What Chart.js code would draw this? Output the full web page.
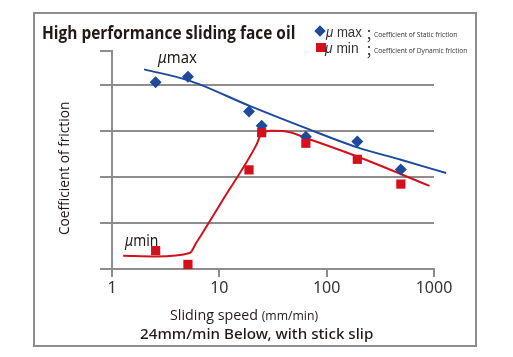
<!DOCTYPE html>
<html><head><meta charset="utf-8">
<script src="https://cdn.jsdelivr.net/npm/chart.js@4/dist/chart.umd.min.js"></script>
<style>
html,body{margin:0;padding:0;background:#fff;}
#wrap{position:relative;width:513px;height:357px;overflow:hidden;}
#frame{position:absolute;left:33px;top:12px;width:440px;height:331px;border:2px solid #8d8d8d;}
canvas{position:absolute;left:0;top:0;}
.t{position:absolute;white-space:nowrap;transform-origin:0 50%;line-height:1;color:#231815;}
</style></head>
<body><div id="wrap">
<div id="frame"></div>
<canvas id="c" width="513" height="357"></canvas>
<div class="t fit" data-w="253" style="left:42px;top:20px;font:700 18px 'Open Sans';color:#231815;">High performance sliding face oil</div>
<div class="t" style="left:315px;top:26px;width:9px;height:9px;"><div style="width:8px;height:8px;background:#1d4a9b;transform:rotate(45deg);margin:1px 0 0 1px;"></div></div>
<div class="t fit" data-w="36" style="left:326px;top:23px;font:400 15px 'Liberation Sans';color:#333;"><i>μ</i> max</div>
<div class="t" style="left:362px;top:24px;font:400 14px 'Noto Sans CJK JP';color:#333;">；</div>
<div class="t fit" data-w="83" style="left:374px;top:28px;font:400 8px 'Open Sans';color:#333;">Coefficient of Static friction</div>
<div class="t" style="left:316px;top:43px;width:10px;height:9px;background:#d3101c;"></div>
<div class="t fit" data-w="34" style="left:325px;top:39px;font:400 15px 'Liberation Sans';color:#333;"><i>μ</i> min</div>
<div class="t" style="left:362px;top:40px;font:400 14px 'Noto Sans CJK JP';color:#333;">；</div>
<div class="t fit" data-w="93" style="left:374px;top:44px;font:400 8px 'Open Sans';color:#333;">Coefficient of Dynamic friction</div>
<div class="t fit" data-w="39" style="left:158px;top:46px;font:400 16px 'Noto Sans';color:#231815;"><i>μ</i>max</div>
<div class="t fit" data-w="33" style="left:125px;top:229px;font:400 16px 'Noto Sans';color:#231815;"><i>μ</i>min</div>
<div class="t fit" id="ytitle" data-w="133" style="left:0px;top:0px;font:400 14px 'Open Sans';color:#231815;">Coefficient of friction</div>
<div class="t fit" data-w="148" style="left:170px;top:305px;font:400 14px 'Open Sans';color:#231815;">Sliding speed <span style="font-size:12px">(mm/min)</span></div>
<div class="t fit" data-w="233" style="left:140px;top:323px;font:500 15px 'Noto Sans';color:#231815;">24mm/min Below, with stick slip</div>
</div>
<script>
// ---- data ----
const xTickValues = [1, 10, 100, 1000];
const yGridValues = [0, 1, 2, 3, 4, 4.75];
const speedPoints = [2.55, 5.1, 18.9, 24.8, 64, 193, 491];
const muMaxValues = [4.07, 4.19, 3.43, 3.12, 2.88, 2.78, 2.17];
const muMinValues = [0.40, 0.10, 2.16, 2.97, 2.74, 2.39, 1.85];
const maxCurveX = [1.99, 5.32, 18.9, 64, 193, 491, 1297];
const maxCurveY = [4.35, 4.10, 3.56, 3.07, 2.65, 2.38, 2.09];
const minCurveX = [1.27, 2.6, 5.3, 6.1, 10.8, 22.2, 24.7, 30.6, 45.3, 65, 193, 908];
const minCurveY = [0.29, 0.275, 0.35, 0.57, 1.51, 2.71, 2.95, 3.01, 2.98, 2.85, 2.45, 1.81];

const BLUE = '#1d4a9b', RED = '#d3101c', GRID = '#8d8d8d';
const pts = (xs, ys) => xs.map((x, i) => ({x, y: ys[i]}));

new Chart(document.getElementById('c'), {
  type: 'scatter',
  data: {
    datasets: [
      {data: pts(maxCurveX, maxCurveY), showLine: true, borderColor: BLUE, borderWidth: 2, pointRadius: 0, cubicInterpolationMode: 'monotone', clip: false, order: 4},
      {data: pts(minCurveX, minCurveY), showLine: true, borderColor: RED, borderWidth: 2, pointRadius: 0, cubicInterpolationMode: 'monotone', clip: false, order: 3},
      {data: pts(speedPoints, muMaxValues), pointStyle: 'rectRot', pointRadius: 6, backgroundColor: BLUE, borderColor: BLUE, borderWidth: 0, order: 2},
      {data: pts(speedPoints, muMinValues), pointStyle: 'rect', pointRadius: 6.5, backgroundColor: RED, borderColor: RED, borderWidth: 0, order: 1}
    ]
  },
  options: {
    responsive: false, animation: false, devicePixelRatio: 1,
    layout: {padding: {left: 100, top: 51, right: 79, bottom: 58}},
    plugins: {legend: {display: false}, tooltip: {enabled: false}},
    scales: {
      x: {
        type: 'logarithmic', min: 1, max: 1000,
        afterBuildTicks: s => { s.ticks = xTickValues.map(v => ({value: v})); },
        afterFit: s => { s.height = 30; },
        grid: {drawOnChartArea: false, drawTicks: true, tickLength: 8, color: GRID, lineWidth: 2},
        border: {display: true, color: GRID, width: 2},
        ticks: {color: '#333', font: {family: 'Noto Sans', size: 16}, padding: 2, maxRotation: 0,
                callback: v => String(v)}
      },
      y: {
        min: 0, max: 4.75,
        afterBuildTicks: s => { s.ticks = yGridValues.map(v => ({value: v})); },
        afterFit: s => { s.width = 12; },
        grid: {drawTicks: true, tickLength: 12, lineWidth: 2,
               color: c => (c.tick && c.tick.value > 4.5) ? 'rgba(0,0,0,0)' : GRID,
               tickColor: GRID},
        border: {display: true, color: GRID, width: 2},
        ticks: {display: false}
      }
    }
  }
});

// fit texts to measured widths
document.querySelectorAll('.fit').forEach(el => {
  const w = parseFloat(el.dataset.w);
  const s = w / el.offsetWidth;
  if (el.id === 'ytitle') {
    const h = el.offsetHeight;
    el.style.transformOrigin = '0 0';
    el.style.left = (63 - h / 2) + 'px';
    el.style.top = (168 + w / 2) + 'px';
    el.style.transform = 'rotate(-90deg) scaleX(' + s + ')';
  } else {
    el.style.transform = 'scaleX(' + s + ')';
  }
});
</script>
</body></html>
